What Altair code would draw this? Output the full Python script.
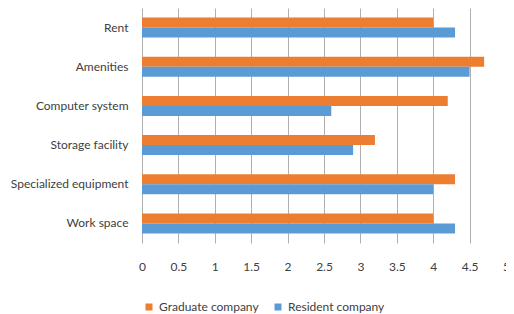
import altair as alt
import pandas as pd

categories = ["Rent", "Amenities", "Computer system", "Storage facility",
              "Specialized equipment", "Work space"]
graduate = [4.0, 4.7, 4.2, 3.2, 4.3, 4.0]
resident = [4.3, 4.5, 2.6, 2.9, 4.0, 4.3]
series = ["Graduate company", "Resident company"]
colors = ["#ED7D31", "#5B9BD5"]
x_ticks = [0, 0.5, 1, 1.5, 2, 2.5, 3, 3.5, 4, 4.5, 5]

rows = []
for c, g, r in zip(categories, graduate, resident):
    rows.append({"Category": c, "Series": series[0], "Value": g})
    rows.append({"Category": c, "Series": series[1], "Value": r})
df = pd.DataFrame(rows)

FONT = "Lato"

chart = alt.Chart(df).mark_bar().encode(
    y=alt.Y("Category:N", sort=categories,
            scale=alt.Scale(paddingInner=0.49, paddingOuter=0.245),
            axis=alt.Axis(title=None, ticks=False, domain=False, labelPadding=14,
                          labelFontSize=12, labelColor="#404040", labelFont=FONT)),
    yOffset=alt.YOffset("Series:N", sort=series),
    x=alt.X("Value:Q", scale=alt.Scale(domain=[0, 5], nice=False),
            axis=alt.Axis(title=None, values=x_ticks, ticks=False, domain=False,
                          grid=True, gridColor="#b0b0b0", gridWidth=1,
                          labelPadding=18, labelFontSize=12, labelColor="#404040",
                          labelFont=FONT, labelFlush=False, format="~g")),
    color=alt.Color("Series:N", sort=series,
                    scale=alt.Scale(domain=series, range=colors),
                    legend=alt.Legend(title=None, orient="none", direction="horizontal",
                                      legendX=1, legendY=293, symbolType="square",
                                      symbolSize=49, labelFontSize=12, labelFont=FONT,
                                      labelColor="#404040", columnPadding=13,
                                      symbolStrokeWidth=0)),
).properties(
    width=364, height=235,
    autosize=alt.AutoSizeParams(type="none"),
    padding={"left": 134, "top": 0, "right": 0, "bottom": 74},
).configure_view(stroke=None)

chart.save("out.html", embed_options={"renderer": "svg", "actions": False})
